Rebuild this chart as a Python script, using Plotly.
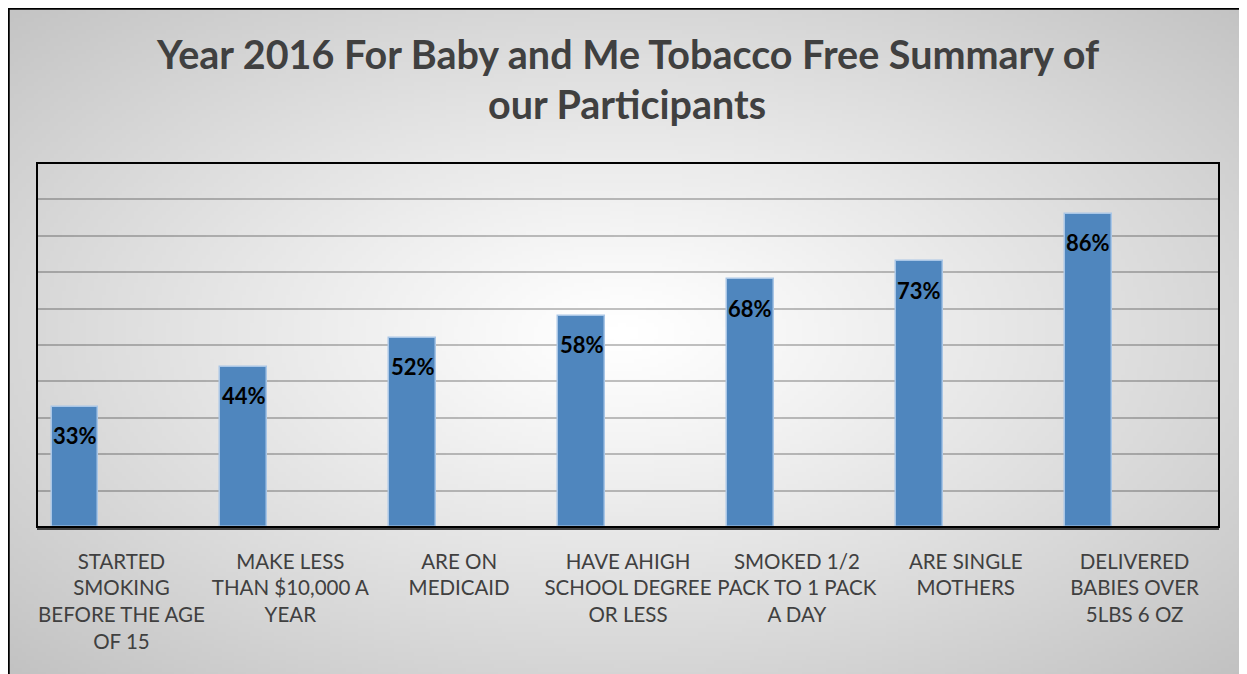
import base64, struct, zlib
import numpy as np
import plotly.graph_objects as go

categories = [
    "STARTED<br>SMOKING<br>BEFORE THE AGE<br>OF 15",
    "MAKE LESS<br>THAN $10,000 A<br>YEAR",
    "ARE ON<br>MEDICAID",
    "HAVE AHIGH<br>SCHOOL DEGREE<br>OR LESS",
    "SMOKED 1/2<br>PACK TO 1 PACK<br>A DAY",
    "ARE SINGLE<br>MOTHERS",
    "DELIVERED<br>BABIES OVER<br>5LBS 6 OZ",
]
values = [33, 44, 52, 58, 68, 73, 86]
title_lines = ["Year 2016 For Baby and Me Tobacco Free Summary of", "our Participants"]

# The page body adds an 8px margin; the figure is laid out in reference pixels minus 8.
O = 8
W, H = 1247, 674
ML, MT = 37 - O, 163 - O
MR = (W + O) - 1219
MB = (H + O) - 527
PW, PH = W - ML - MR, H - MT - MB


def px_x(px):
    return (px - ML) / PW


def px_y(py):
    return (H - MB - py) / PH


def make_png(arr):
    h, w, _ = arr.shape
    raw = b"".join(b"\x00" + arr[r].tobytes() for r in range(h))

    def chunk(tag, data):
        c = struct.pack(">I", len(data)) + tag + data
        return c + struct.pack(">I", zlib.crc32(tag + data) & 0xFFFFFFFF)

    png = b"\x89PNG\r\n\x1a\n"
    png += chunk(b"IHDR", struct.pack(">IIBBBBB", w, h, 8, 2, 0, 0, 0))
    png += chunk(b"IDAT", zlib.compress(raw, 9))
    png += chunk(b"IEND", b"")
    return "data:image/png;base64," + base64.b64encode(png).decode()


# radial gradient background (white centre, grey edges)
gw, gh = 312, 168
yy, xx = np.mgrid[0:gh, 0:gw]
cx, cy = gw * 0.49, gh * 0.48
dx = (xx - cx) / (gw / 2)
dy = (yy - cy) / (gh / 2)
r = np.sqrt(dx ** 2 + dy ** 2) / np.sqrt(2)
g = 256 - 62 * np.clip(r, 0, 1.2) ** 1.1
g = np.clip(g, 0, 255).astype(np.uint8)
img = np.stack([g, g, g], axis=-1)
bg_src = make_png(img)

xs = list(range(len(values)))
bar_offset = -0.414
bar_width = 0.278

fig = go.Figure()
fig.add_trace(go.Bar(
    x=xs, y=values,
    offset=bar_offset, width=bar_width,
    marker=dict(color="#4F86BE", line=dict(color="#A9C6E6", width=1.5)),
    hoverinfo="skip",
))

for x, v in zip(xs, values):
    fig.add_annotation(
        x=x + bar_offset + bar_width / 2, y=v, xref="x", yref="y",
        text=f"<b>{v}%</b>", showarrow=False, yanchor="middle", yshift=-29,
        font=dict(family="Lato", size=22, color="#000000"),
    )

for i, line in enumerate(title_lines):
    fig.add_annotation(
        x=px_x(627 - O), y=px_y(54 + 50 * i - O), xref="paper", yref="paper",
        text=f"<b>{line}</b>", showarrow=False, xanchor="center", yanchor="middle",
        font=dict(family="Lato", size=39.5, color="#404040"),
    )

fig.add_layout_image(dict(
    source=bg_src, xref="paper", yref="paper",
    x=px_x(0), y=px_y(0), sizex=W / PW, sizey=H / PH,
    xanchor="left", yanchor="top", sizing="stretch", layer="below",
))

# plot area frame
fig.add_shape(type="rect", xref="paper", yref="paper", x0=0, y0=0, x1=1, y1=1,
              line=dict(color="#000000", width=2), layer="above")
# outer slide border (left and top)
fig.add_shape(type="line", xref="paper", yref="paper",
              x0=px_x(0.5), y0=px_y(H + 5), x1=px_x(0.5), y1=px_y(0),
              line=dict(color="#000000", width=2.5))
fig.add_shape(type="line", xref="paper", yref="paper",
              x0=px_x(0), y0=px_y(0.5), x1=px_x(W + 5), y1=px_y(0.5),
              line=dict(color="#000000", width=2.5))

fig.update_layout(
    width=W, height=H,
    margin=dict(l=ML, r=MR, t=MT, b=MB, autoexpand=False),
    paper_bgcolor="#D0D0D0",
    plot_bgcolor="rgba(0,0,0,0)",
    showlegend=False,
    bargap=0,
    xaxis=dict(
        range=[-0.5, len(values) - 0.5],
        tickmode="array", tickvals=xs, ticktext=categories,
        tickangle=0,
        ticks="", ticklabelstandoff=14,
        tickfont=dict(family="Lato", size=20.5, color="#404040"),
        showgrid=False, zeroline=False,
        showline=True, linecolor="#404040", linewidth=3,
    ),
    yaxis=dict(
        range=[0, 100], dtick=10, showticklabels=False,
        showgrid=True, gridcolor="rgba(0,0,0,0.24)", gridwidth=2,
        zeroline=False, showline=False,
    ),
)

fig.write_html("out.html")
